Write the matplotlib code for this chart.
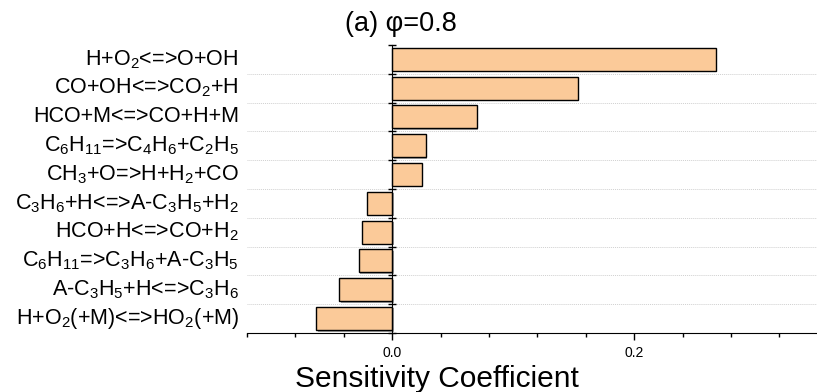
import matplotlib
matplotlib.use("Agg")
import matplotlib.pyplot as plt
import matplotlib.patheffects as pe
import numpy as np

plt.rcParams['font.family'] = ['Liberation Sans', 'DejaVu Sans']
plt.rcParams['mathtext.default'] = 'regular'

reactions = [
    r"H+O$_2$<=>O+OH",
    r"CO+OH<=>CO$_2$+H",
    r"HCO+M<=>CO+H+M",
    r"C$_6$H$_{11}$=>C$_4$H$_6$+C$_2$H$_5$",
    r"CH$_3$+O=>H+H$_2$+CO",
    r"C$_3$H$_6$+H<=>A-C$_3$H$_5$+H$_2$",
    r"HCO+H<=>CO+H$_2$",
    r"C$_6$H$_{11}$=>C$_3$H$_6$+A-C$_3$H$_5$",
    r"A-C$_3$H$_5$+H<=>C$_3$H$_6$",
    r"H+O$_2$(+M)<=>HO$_2$(+M)",
]
sensitivity = [0.2675, 0.1532, 0.0697, 0.0278, 0.0245,
               -0.0209, -0.0253, -0.0278, -0.0438, -0.0626]

fig = plt.figure(figsize=(8.17, 3.92), dpi=100)
ax = fig.add_axes([0.3023, 0.1505, 0.711, 0.735])

y = np.arange(len(reactions))
ax.barh(y, sensitivity, height=0.8, color='#FBCA99', edgecolor='black', linewidth=1.0,
        path_effects=[pe.SimplePatchShadow(offset=(1, -1), shadow_rgbFace='gray', alpha=0.7),
                      pe.Normal()], zorder=3)

ax.set_xlim(-0.12, 0.36)
ax.set_ylim(len(reactions) - 0.5, -0.5)

# grid lines between the bars
for b in np.arange(0.5, len(reactions) - 0.5, 1):
    ax.axhline(b, color='#d0d0d0', linewidth=0.7, linestyle=(0, (1, 1)), zorder=1)

ax.spines['top'].set_visible(False)
ax.spines['right'].set_visible(False)
ax.spines['left'].set_position(('data', 0))
ax.spines['left'].set_zorder(4)

ax.set_yticks(np.arange(-0.5, len(reactions), 1))
ax.set_yticklabels([])
ax.tick_params(axis='y', direction='inout', length=6, width=1)

ax.set_xticks([0.0, 0.2])
ax.set_xticklabels(['0.0', '0.2'])
ax.set_xticks(np.arange(-0.12, 0.37, 0.04), minor=True)
ax.tick_params(axis='x', which='major', direction='out', length=5, width=1, labelsize=10, pad=4)
ax.tick_params(axis='x', which='minor', direction='out', length=3, width=1)

for i, r in enumerate(reactions):
    ax.text(-0.014, i, r, transform=ax.get_yaxis_transform(), ha='right', va='center', fontsize=15.5)

fig.text(401 / 817, 1 - 24 / 392, "(a) φ=0.8", ha='center', va='center', fontsize=19.5)
fig.text(437 / 817, 1 - 387 / 392, "Sensitivity Coefficient", ha='center', va='baseline', fontsize=21.5)

fig.savefig("out.png", dpi=100)
